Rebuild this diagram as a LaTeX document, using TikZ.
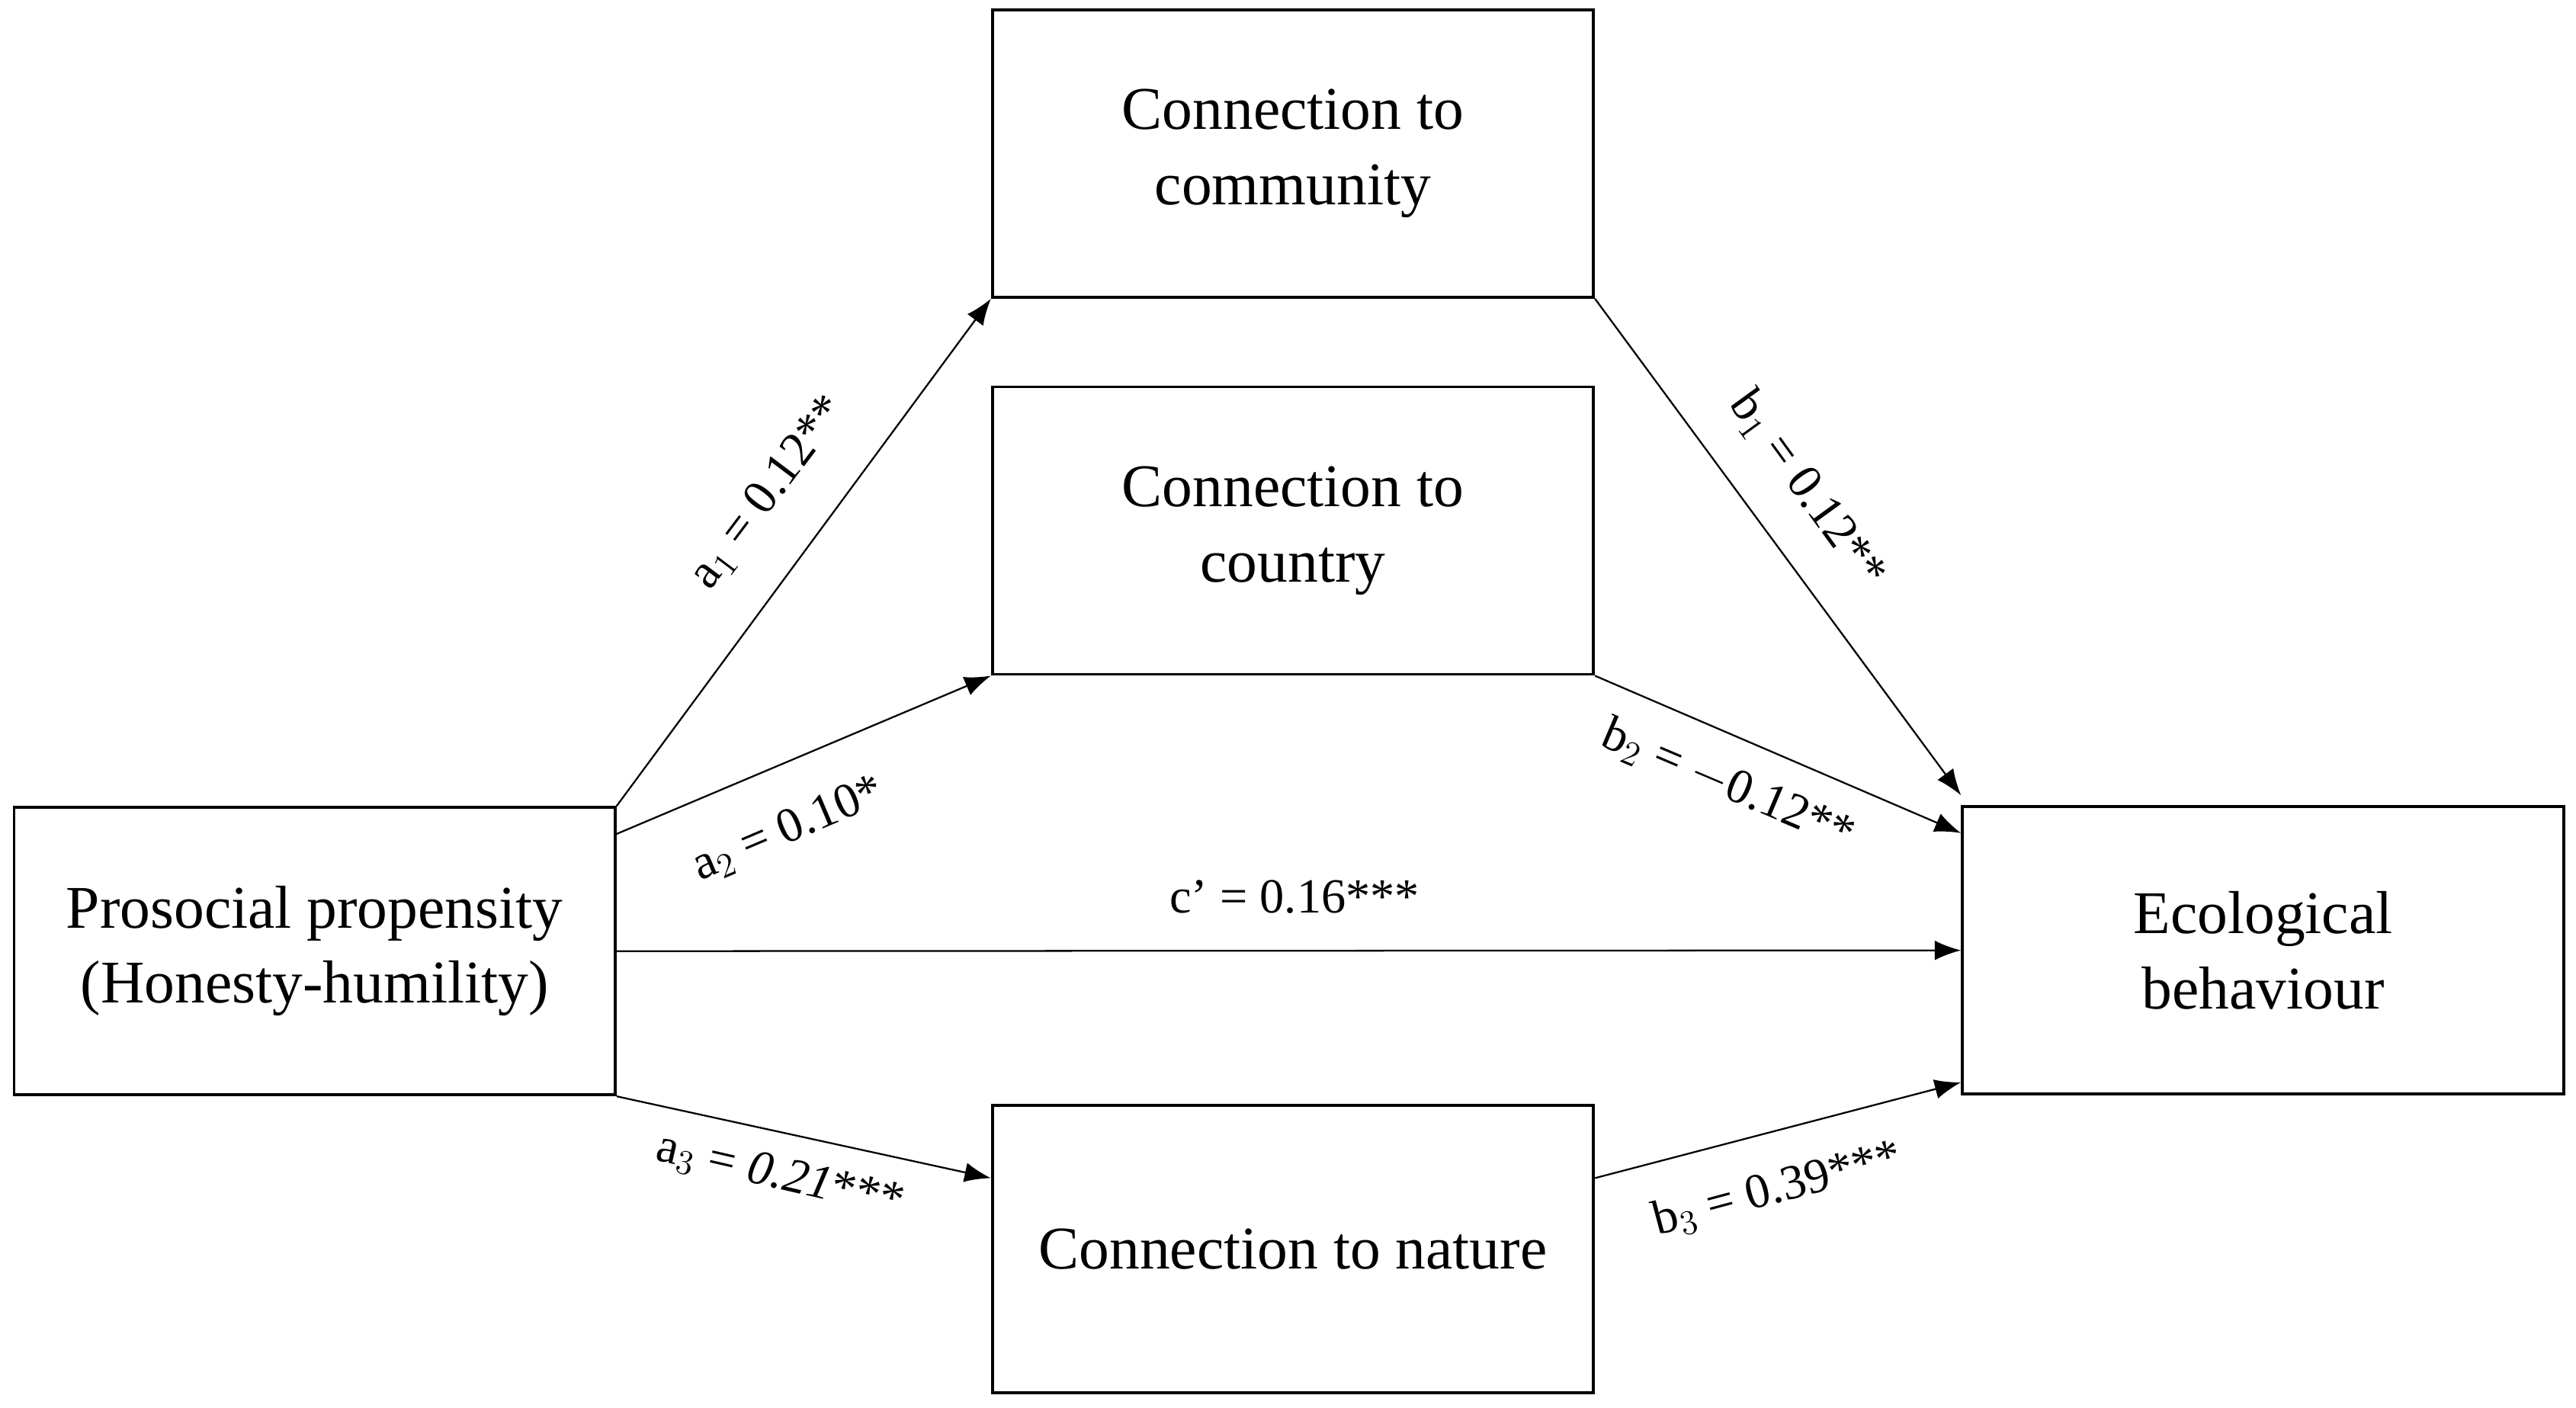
\documentclass[tikz,border=0pt]{standalone}
\usepackage{fontspec}
\setmainfont{Liberation Serif}
\usetikzlibrary{positioning,arrows.meta}

\tikzset{
  var/.style={draw, line width=1pt, minimum width=7.32cm, minimum height=3.5cm, align=center, font=\fontsize{21}{26}\selectfont},
  path/.style={-{Latex[length=0.32cm,width=0.24cm]}, line width=0.6pt},
  coef/.style={font=\fontsize{17}{20}\selectfont},
}

\begin{document}
\begin{tikzpicture}[x=0.02cm,y=-0.02cm]
\useasboundingbox (0,0) rectangle (1568,857);
\node[var] (pp) at (191.5,579) {Prosocial propensity\\(Honesty-humility)};
\node[var] (comm) at (787,93.5) {Connection to\\community};
\node[var] (ctry) at (787,323) {Connection to\\country};
\node[var] (nat) at (787,760.5) {Connection to nature};
\node[var] (eco) at (1377.5,578.5) {Ecological\\behaviour};
% a paths
\draw[path] (pp.north east) -- (comm.south west);
\draw[path] ([yshift=-0.34cm]pp.north east) -- (ctry.south west);
\draw[path] (pp.south east) -- ([yshift=-0.9cm]nat.north west);
% b paths
\draw[path] (comm.south east) -- ([yshift=0.12cm]eco.north west);
\draw[path] (ctry.south east) -- ([yshift=-0.34cm]eco.north west);
\draw[path] ([yshift=-0.9cm]nat.north east) -- ([yshift=0.16cm]eco.south west);
% direct path
\draw[path] (pp.east) -- (eco.west);
% labels
\node[coef, rotate=53] (la1) at (468,300) {a$_1$ = 0.12**};
\node[coef, rotate=23] (la2) at (480,505) {a$_2$ = 0.10*};
\node[coef, rotate=-13] (la3) at (475,716) {a$_3$ = \textit{0.21}***};
\node[coef, rotate=-54] (lb1) at (1100,298) {b$_1$ = 0.12**};
\node[coef, rotate=-23] (lb2) at (1052,478) {b$_2$ = $-$0.12**};
\node[coef, rotate=15] (lb3) at (1082,724) {b$_3$ = 0.39***};
\node[coef] (lc) at (788,546) {c’ = 0.16***};
\end{tikzpicture}
\end{document}
